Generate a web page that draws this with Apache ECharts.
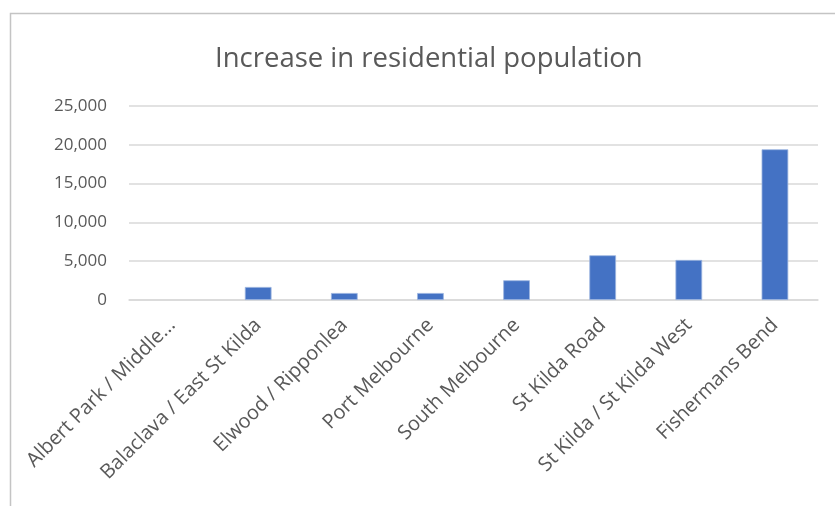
<!DOCTYPE html>
<html>
<head>
<meta charset="utf-8">
<script src="https://cdn.jsdelivr.net/npm/echarts@6/dist/echarts.min.js"></script>
<style>html,body{margin:0;padding:0;background:#fff;}#c{width:835px;height:506px;}</style>
</head>
<body>
<div id="c"></div>
<script>
const titleText = 'Increase in residential population';
const categories = ['Albert Park / Middle Park', 'Balaclava / East St Kilda', 'Elwood / Ripponlea', 'Port Melbourne', 'South Melbourne', 'St Kilda Road', 'St Kilda / St Kilda West', 'Fishermans Bend'];
const xTickLabels = ['Albert Park / Middle...', 'Balaclava / East St Kilda', 'Elwood / Ripponlea', 'Port Melbourne', 'South Melbourne', 'St Kilda Road', 'St Kilda / St Kilda West', 'Fishermans Bend'];
const values = [0, 1680, 900, 900, 2540, 5760, 5160, 19420];
const yTicks = [0, 5000, 10000, 15000, 20000, 25000];

const chart = echarts.init(document.getElementById('c'), null, {renderer: 'canvas'});
const font = 'Open Sans';
chart.setOption({
  animation: false,
  backgroundColor: '#ffffff',
  graphic: [{
    type: 'rect', shape: {x: 10.5, y: 13.5, width: 900, height: 600},
    style: {fill: 'none', stroke: '#c4c4c4', lineWidth: 1.5}, silent: true, z: -1
  }],
  title: {
    text: titleText, left: 210, top: 40,
    textStyle: {fontFamily: font, fontSize: 27.5, fontWeight: 'normal', color: '#595959'}
  },
  grid: {left: 129, right: 17, top: 106, bottom: 206, containLabel: false},
  xAxis: {
    type: 'category', data: categories,
    axisLine: {show: true, lineStyle: {color: '#d9d9d9', width: 1.5}},
    axisTick: {show: false},
    axisLabel: {
      rotate: 45, interval: 0, margin: 22, color: '#595959', fontFamily: font, fontSize: 20,
      formatter: (v, i) => xTickLabels[i]
    }
  },
  yAxis: {
    type: 'value', min: yTicks[0], max: yTicks[yTicks.length - 1], interval: 5000,
    axisLine: {show: false}, axisTick: {show: false},
    splitLine: {lineStyle: {color: '#d9d9d9', width: 1.5}},
    axisLabel: {
      margin: 22, color: '#595959', fontFamily: font, fontSize: 17,
      formatter: v => v.toLocaleString('en-US')
    }
  },
  series: [{
    type: 'bar',
    data: values.map(v => v === 0 ? {value: v, itemStyle: {borderWidth: 0}} : v),
    barWidth: '31%',
    itemStyle: {color: '#4472c4', borderColor: '#9db5e0', borderWidth: 0.8}
  }]
});
</script>
</body>
</html>
